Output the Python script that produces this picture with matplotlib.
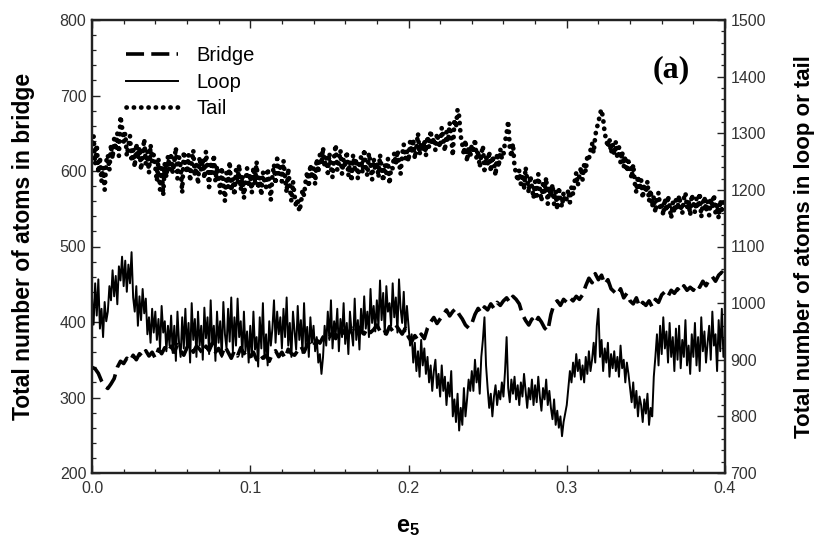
import numpy as np
import matplotlib
matplotlib.use("Agg")
import matplotlib.pyplot as plt
from matplotlib.ticker import MultipleLocator

plt.rcParams['font.family'] = ['Liberation Sans', 'DejaVu Sans']
plt.rcParams['mathtext.fontset'] = 'custom'
plt.rcParams['mathtext.bf'] = 'Liberation Sans:bold'
plt.rcParams['mathtext.rm'] = 'Liberation Sans'

# Bridge atoms (left axis), sampled every 0.002 in e5
bridge = [
    340, 338, 332, 322, 315,
    312, 318, 325, 340, 348,
    345, 352, 348, 356, 350,
    358, 354, 362, 355, 360,
    352, 364, 358, 366, 360,
    368, 360, 370, 362, 356,
    366, 372, 360, 368, 364,
    358, 368, 362, 372, 360,
    365, 356, 368, 360, 352,
    362, 355, 366, 358, 362,
    354, 360, 350, 358, 352,
    356, 348, 358, 362, 354,
    360, 352, 364, 358, 356,
    362, 368, 360, 370, 374,
    368, 376, 372, 380, 384,
    380, 386, 378, 388, 384,
    390, 384, 392, 386, 394,
    388, 384, 392, 386, 390,
    396, 388, 392, 384, 394,
    388, 396, 390, 384, 392,
    380, 374, 382, 376, 384,
    378, 392, 400, 406, 398,
    404, 410, 416, 408, 414,
    418, 410, 404, 396, 392,
    398, 410, 418, 412, 420,
    416, 424, 418, 426, 422,
    428, 432, 426, 434, 430,
    424, 410, 402, 396, 404,
    398, 406, 400, 392, 388,
    410, 424, 428, 422, 430,
    426, 432, 428, 434, 430,
    436, 448, 458, 452, 464,
    456, 462, 450, 456, 444,
    440, 436, 444, 432, 438,
    428, 424, 432, 420, 426,
    422, 428, 420, 430, 426,
    436, 440, 434, 442, 438,
    444, 440, 448, 442, 446,
    442, 450, 446, 454, 448,
    456, 460, 454, 462, 466,
    460,
]

# Loop atoms (right axis), sampled every 0.001 in e5
loop = [
    1010, 962, 1035, 978, 1042, 955, 990, 940, 1002, 968,
    985, 1030, 1005, 1058, 1012, 1048, 998, 1065, 1040, 1082,
    1030, 1075, 1020, 1068, 1035, 1090, 1010, 985, 1030, 960,
    1012, 970, 1025, 982, 1008, 945, 975, 930, 990, 948,
    985, 935, 972, 920, 995, 948, 968, 915, 960, 925,
    978, 912, 960, 898, 985, 930, 905, 975, 920, 990,
    918, 965, 895, 1000, 935, 972, 905, 985, 925, 960,
    900, 992, 938, 975, 910, 1005, 925, 960, 898, 985,
    930, 968, 905, 1002, 945, 920, 990, 932, 1010, 915,
    975, 925, 1008, 940, 968, 905, 985, 915, 950, 895,
    960, 905, 985, 918, 940, 888, 975, 920, 1000, 902,
    945, 890, 968, 925, 955, 1005, 930, 985, 945, 975,
    920, 990, 940, 1010, 925, 965, 905, 985, 950, 918,
    995, 935, 970, 912, 1000, 925, 958, 905, 975, 930,
    960, 915, 940, 895, 910, 875, 905, 960, 925, 985,
    935, 1005, 920, 968, 945, 990, 915, 972, 940, 1000,
    928, 965, 910, 985, 950, 925, 1008, 935, 970, 918,
    990, 945, 1012, 955, 985, 940, 1025, 965, 995, 950,
    1005, 958, 1040, 970, 1018, 945, 1030, 985, 1000, 960,
    1035, 975, 1010, 948, 1042, 990, 965, 1020, 950, 995,
    960, 925, 945, 895, 930, 880, 915, 870, 935, 890,
    920, 875, 905, 860, 890, 845, 880, 900, 850, 875,
    835, 890, 845, 870, 820, 860, 835, 880, 800, 830,
    790, 840, 775, 815, 785, 850, 800, 830, 865, 845,
    880, 845, 900, 860, 885, 840, 905, 935, 975, 890,
    850, 815, 840, 800, 835, 855, 820, 845, 830, 860,
    835, 880, 940, 850, 825, 865, 840, 870, 830, 855,
    820, 860, 835, 875, 845, 815, 850, 830, 865, 820,
    855, 825, 870, 835, 810, 850, 830, 865, 820, 845,
    815, 795, 830, 785, 810, 780, 800, 765, 790, 805,
    820, 850, 880, 860, 895, 870, 910, 880, 900, 865,
    890, 860, 905, 875, 915, 880, 900, 930, 895, 960,
    990, 905, 935, 880, 920, 895, 930, 870, 910, 885,
    915, 880, 905, 870, 925, 885, 900, 860, 895, 875,
    850, 825, 860, 815, 845, 800, 835, 820, 790, 830,
    805, 840, 785, 815, 800, 870, 905, 945, 890, 960,
    910, 975, 920, 950, 895, 965, 905, 940, 880, 955,
    900, 960, 885, 935, 905, 970, 890, 925, 875, 945,
    905, 965, 890, 940, 880, 975, 915, 950, 895, 930,
    960, 900, 985, 925, 945, 880, 970, 915, 990, 905,
    940,
]

# Tail atoms (right axis), sampled every 0.001 in e5
tail = [
    1270, 1295, 1245, 1280, 1230, 1258, 1215, 1240, 1200, 1250,
    1262, 1235, 1280, 1255, 1290, 1270, 1300, 1260, 1330, 1310,
    1285, 1300, 1260, 1278, 1295, 1250, 1270, 1240, 1282, 1255,
    1275, 1235, 1262, 1290, 1245, 1268, 1230, 1280, 1250, 1262,
    1240, 1215, 1255, 1200, 1238, 1190, 1248, 1222, 1260, 1235,
    1265, 1230, 1250, 1275, 1220, 1258, 1240, 1195, 1268, 1245,
    1230, 1262, 1215, 1250, 1270, 1225, 1245, 1210, 1258, 1235,
    1255, 1220, 1268, 1238, 1205, 1250, 1230, 1262, 1215, 1242,
    1225, 1195, 1240, 1210, 1180, 1230, 1205, 1250, 1198, 1220,
    1190, 1235, 1212, 1245, 1200, 1225, 1185, 1215, 1238, 1205,
    1228, 1195, 1240, 1210, 1250, 1202, 1222, 1190, 1232, 1215,
    1205, 1238, 1215, 1182, 1225, 1245, 1210, 1255, 1228, 1240,
    1215, 1252, 1222, 1195, 1238, 1205, 1180, 1215, 1190, 1170,
    1185, 1162, 1175, 1200, 1190, 1215, 1232, 1205, 1245, 1220,
    1238, 1210, 1255, 1230, 1262, 1245, 1275, 1240, 1258, 1230,
    1265, 1240, 1222, 1258, 1280, 1235, 1250, 1270, 1228, 1255,
    1240, 1268, 1225, 1250, 1215, 1262, 1238, 1255, 1220, 1245,
    1258, 1230, 1272, 1240, 1225, 1265, 1245, 1218, 1255, 1235,
    1250, 1222, 1262, 1238, 1215, 1245, 1230, 1255, 1210, 1240,
    1238, 1265, 1245, 1270, 1250, 1228, 1262, 1280, 1255, 1268,
    1250, 1285, 1265, 1290, 1255, 1275, 1300, 1262, 1282, 1270,
    1288, 1260, 1295, 1275, 1305, 1280, 1292, 1270, 1300, 1285,
    1275, 1310, 1290, 1268, 1302, 1285, 1318, 1295, 1260, 1325,
    1310, 1342, 1330, 1295, 1280, 1262, 1288, 1250, 1275, 1258,
    1280, 1265, 1290, 1255, 1270, 1240, 1262, 1278, 1235, 1258,
    1245, 1268, 1232, 1260, 1250, 1225, 1265, 1240, 1272, 1255,
    1262, 1285, 1300, 1322, 1275, 1258, 1282, 1240, 1230, 1215,
    1235, 1210, 1228, 1200, 1240, 1218, 1195, 1225, 1205, 1185,
    1215, 1190, 1228, 1202, 1180, 1210, 1195, 1222, 1175, 1205,
    1188, 1210, 1175, 1198, 1165, 1205, 1182, 1170, 1195, 1178,
    1185, 1200, 1178, 1205, 1192, 1215, 1230, 1208, 1225, 1240,
    1218, 1245, 1232, 1260, 1255, 1270, 1282, 1265, 1295, 1310,
    1318, 1335, 1342, 1325, 1300, 1288, 1275, 1290, 1265, 1280,
    1262, 1285, 1255, 1275, 1248, 1268, 1240, 1260, 1232, 1250,
    1238, 1220, 1245, 1212, 1195, 1225, 1200, 1218, 1185, 1210,
    1195, 1215, 1180, 1200, 1170, 1188, 1160, 1182, 1195, 1168,
    1175, 1155, 1185, 1162, 1190, 1170, 1150, 1178, 1160, 1182,
    1165, 1190, 1172, 1158, 1185, 1195, 1168, 1180, 1155, 1192,
    1178, 1160, 1185, 1168, 1195, 1152, 1175, 1188, 1162, 1180,
    1155, 1185, 1168, 1192, 1160, 1175, 1150, 1182, 1165, 1178,
    1172,
]

x_bridge = np.linspace(0.0, 0.4, len(bridge))
x_loop = np.linspace(0.0, 0.4, len(loop))
x_tail = np.linspace(0.0, 0.4, len(tail))

fig = plt.figure(figsize=(8.22, 5.55), dpi=100)
ax = fig.add_axes([92 / 822, 1 - 473 / 555, (725 - 92) / 822, (473 - 20) / 555])
ax2 = ax.twinx()

h_bridge, = ax.plot(x_bridge, bridge, color='black', lw=2.6,
                    dashes=(5, 2.0), label='Bridge')
h_loop, = ax2.plot(x_loop, loop, color='black', lw=1.4, label='Loop')
h_tail, = ax2.plot(x_tail, tail, color='black', lw=3.4,
                   linestyle=(0, (0.05, 1.5)), dash_capstyle='round',
                   label='Tail')

ax.set_xlim(0.0, 0.4)
ax.set_ylim(200, 800)
ax2.set_ylim(700, 1500)

ax.xaxis.set_major_locator(MultipleLocator(0.1))
ax.xaxis.set_minor_locator(MultipleLocator(0.02))
ax.yaxis.set_major_locator(MultipleLocator(100))
ax.yaxis.set_minor_locator(MultipleLocator(20))
ax2.yaxis.set_major_locator(MultipleLocator(100))
ax2.yaxis.set_minor_locator(MultipleLocator(20))

ax.xaxis.set_major_formatter(matplotlib.ticker.FormatStrFormatter('%.1f'))

tick_kw = dict(labelsize=11.5, colors='#222222', labelcolor='#333333')
ax.tick_params(axis='x', which='both', direction='in', top=True, bottom=True,
               pad=6, **tick_kw)
ax.tick_params(axis='y', which='both', direction='in', left=True, right=False,
               pad=4, **tick_kw)
ax2.tick_params(axis='y', which='both', direction='in', right=True,
                pad=4, **tick_kw)
for a in (ax, ax2):
    a.tick_params(which='major', length=6, width=1.0)
    a.tick_params(which='minor', length=3, width=0.9)
    for s in a.spines.values():
        s.set_linewidth(1.6)
        s.set_color('#222222')

ax.set_ylabel('Total number of atoms in bridge', fontsize=16.5,
              fontweight='bold', labelpad=18)
ax2.set_ylabel('Total number of atoms in loop or tail', fontsize=16,
               fontweight='bold', labelpad=20)
ax.set_xlabel(r'$\mathbf{e_5}$', fontsize=17, labelpad=14)

ax.text(0.915, 0.89, '(a)', transform=ax.transAxes, ha='center', va='center',
        fontsize=23, fontweight='bold', family=['Liberation Serif', 'DejaVu Serif'])

fig.legend(handles=[h_bridge, h_loop, h_tail],
           labels=['Bridge', 'Loop', 'Tail'],
           loc='upper left', bbox_to_anchor=(126 / 822, 1 - 46 / 555),
           bbox_transform=fig.transFigure, frameon=False, fontsize=14.5,
           borderpad=0, borderaxespad=0, handlelength=2.6,
           handletextpad=0.9, labelspacing=0.38)

fig.savefig('out.png', dpi=100)
